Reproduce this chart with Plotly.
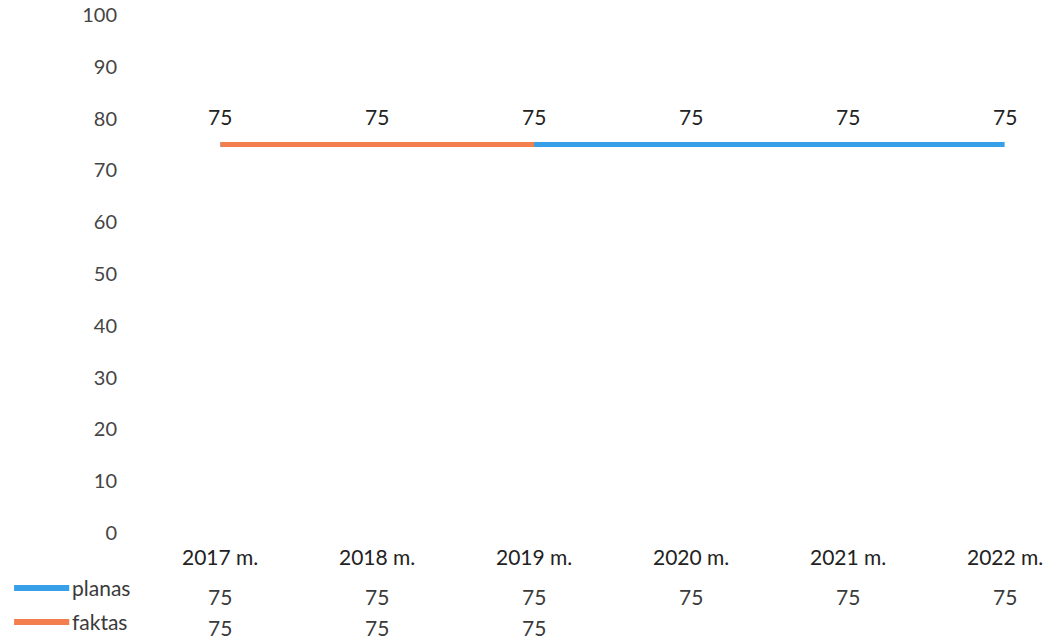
import plotly.graph_objects as go

categories = ["2017 m.", "2018 m.", "2019 m.", "2020 m.", "2021 m.", "2022 m."]
planas = [75, 75, 75, 75, 75, 75]
faktas = [75, 75, 75]
series_names = ["planas", "faktas"]

BLUE = "#37A0E8"
ORANGE = "#F47F4E"
TXT = "#3A3A3A"
FONT = "Lato"

xs = list(range(len(categories)))

fig = go.Figure()
fig.add_trace(go.Scatter(x=xs, y=planas, mode="lines", name=series_names[0],
                         line=dict(color=BLUE, width=5), showlegend=False))
fig.add_trace(go.Scatter(x=xs[:len(faktas)], y=faktas, mode="lines", name=series_names[1],
                         line=dict(color=ORANGE, width=5), showlegend=False))

annotations = []
# data labels
for i, v in enumerate(planas):
    annotations.append(dict(x=xs[i], y=v, xref="x", yref="y", text=str(v), showarrow=False,
                            yshift=28, font=dict(family=FONT, size=21, color="#222222")))
# table: categories row
for i, c in enumerate(categories):
    annotations.append(dict(x=xs[i], y=-0.046, xref="x", yref="paper", text=c, showarrow=False,
                            yanchor="middle", font=dict(family=FONT, size=21, color="#222222")))
for i, v in enumerate(planas):
    annotations.append(dict(x=xs[i], y=-0.122, xref="x", yref="paper", text=str(v), showarrow=False,
                            yanchor="middle", font=dict(family=FONT, size=21, color=TXT)))
for i, v in enumerate(faktas):
    annotations.append(dict(x=xs[i], y=-0.183, xref="x", yref="paper", text=str(v), showarrow=False,
                            yanchor="middle", font=dict(family=FONT, size=21, color=TXT)))
# legend labels in table
for name, yy in zip(series_names, [-0.106, -0.170]):
    annotations.append(dict(x=-0.0795, y=yy, xref="paper", yref="paper", text=name, showarrow=False,
                            xanchor="left", yanchor="middle", font=dict(family=FONT, size=21, color=TXT)))

shapes = [
    dict(type="line", xref="paper", yref="paper", x0=-0.1415, x1=-0.0805, y0=-0.106, y1=-0.106,
         line=dict(color=BLUE, width=6)),
    dict(type="line", xref="paper", yref="paper", x0=-0.1415, x1=-0.0805, y0=-0.172, y1=-0.172,
         line=dict(color=ORANGE, width=6)),
]

fig.update_layout(
    width=1046, height=640,
    margin=dict(l=142, r=0, t=15, b=107),
    paper_bgcolor="white", plot_bgcolor="white",
    font=dict(family=FONT, size=21, color=TXT),
    xaxis=dict(range=[-0.5, 5.264], showticklabels=False, showgrid=False, zeroline=False,
               showline=False, ticks="", automargin=False),
    yaxis=dict(range=[0, 100], dtick=10, showgrid=False, zeroline=False, showline=False,
               ticks="", ticklabelstandoff=24, automargin=False,
               tickfont=dict(family=FONT, size=20, color="#454545")),
    annotations=annotations, shapes=shapes, showlegend=False,
)

fig.write_html("out.html", config={"displayModeBar": False})

with open("out.html", "r", encoding="utf-8") as f:
    html = f.read()
html = html.replace("<body>", '<body style="margin:0;overflow:hidden">', 1)
with open("out.html", "w", encoding="utf-8") as f:
    f.write(html)
